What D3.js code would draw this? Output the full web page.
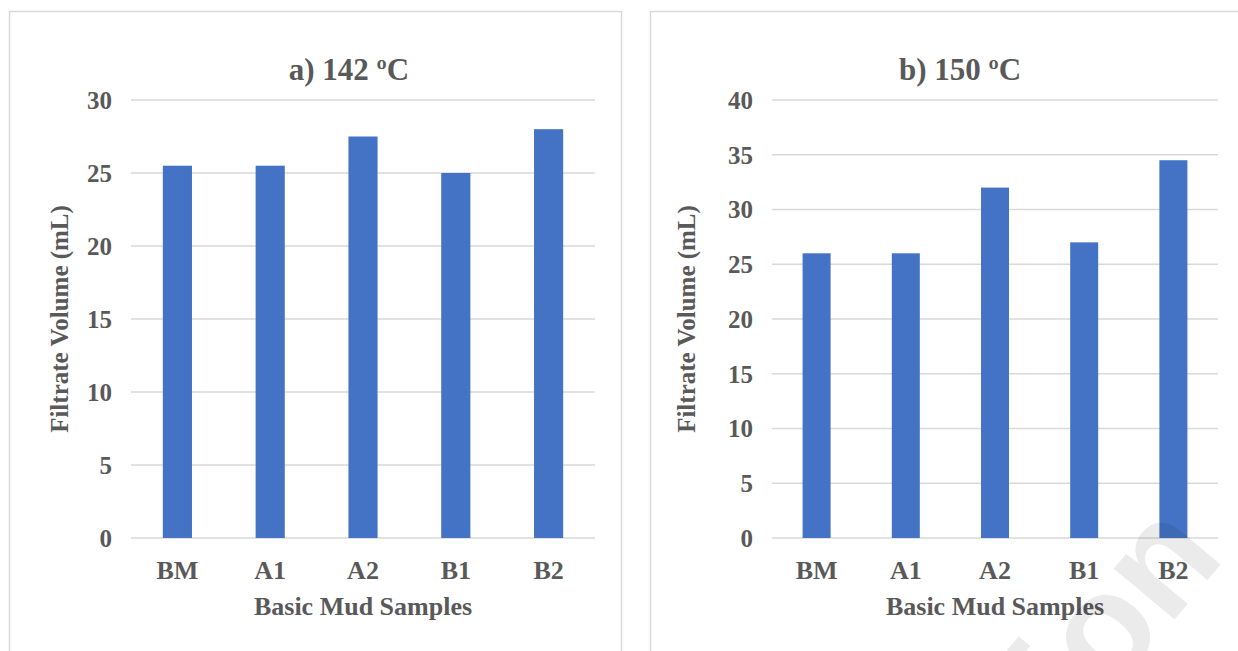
<!DOCTYPE html>
<html>
<head>
<meta charset="utf-8">
<script src="https://cdn.jsdelivr.net/npm/d3@7"></script>
<style>
  html, body { margin: 0; padding: 0; background: #fff; }
  text { font-family: "Liberation Serif", "Times New Roman", serif; font-weight: bold; fill: #595959; }
</style>
</head>
<body>
<svg id="chart" width="1238" height="651"></svg>
<script>
// data
const categories = ["BM", "A1", "A2", "B1", "B2"];
const filtrate142 = [25.5, 25.5, 27.5, 25, 28];
const filtrate150 = [26, 26, 32, 27, 34.5];
const ticks142 = [0, 5, 10, 15, 20, 25, 30];
const ticks150 = [0, 5, 10, 15, 20, 25, 30, 35, 40];

const svg = d3.select("#chart");
svg.append("rect").attr("width", 1238).attr("height", 651).attr("fill", "white");

function drawPanel(opts) {
  var g = svg.append("g");

  // panel border
  g.append("rect")
    .attr("x", opts.box[0] + 0.5)
    .attr("y", opts.box[1] + 0.5)
    .attr("width", opts.box[2])
    .attr("height", opts.box[3])
    .attr("fill", "none")
    .attr("stroke", "#d9d9d9")
    .attr("stroke-width", 1.5);

  var x = d3.scaleBand().domain(categories).range([opts.left, opts.right]).paddingInner(0.686).paddingOuter(0.343);
  var y = d3.scaleLinear().domain([0, d3.max(opts.ticks)]).range([opts.bottom, opts.top]);

  // gridlines
  g.append("g").selectAll("line").data(opts.ticks).join("line")
    .attr("x1", opts.left).attr("x2", opts.right)
    .attr("y1", d => y(d)).attr("y2", d => y(d))
    .attr("stroke", "#d9d9d9").attr("stroke-width", 1.5);

  // tick labels
  g.append("g").selectAll("text").data(opts.ticks).join("text")
    .attr("x", opts.left - 19)
    .attr("y", d => y(d))
    .attr("dy", "0.35em")
    .attr("text-anchor", "end")
    .style("font-size", "25px")
    .text(d => d);

  // bars
  g.append("g").selectAll("rect").data(opts.values).join("rect")
    .attr("x", (d, i) => x(categories[i]))
    .attr("y", d => y(d))
    .attr("width", x.bandwidth())
    .attr("height", d => y(0) - y(d))
    .attr("fill", "#4472c4");

  // category labels
  g.append("g").selectAll("text").data(categories).join("text")
    .attr("x", d => x(d) + x.bandwidth() / 2)
    .attr("y", opts.bottom + 41)
    .attr("text-anchor", "middle")
    .style("font-size", "26px")
    .text(d => d);

  // title
  g.append("text")
    .attr("x", opts.titleX)
    .attr("y", 80)
    .attr("text-anchor", "middle")
    .style("font-size", "31px")
    .text(opts.title);

  // x axis title
  g.append("text")
    .attr("x", (opts.left + opts.right) / 2)
    .attr("y", opts.bottom + 77)
    .attr("text-anchor", "middle")
    .style("font-size", "26px")
    .text("Basic Mud Samples");

  // y axis title
  g.append("text")
    .attr("transform", `translate(${opts.yTitleX}, ${(opts.top + opts.bottom) / 2}) rotate(-90)`)
    .attr("text-anchor", "middle")
    .style("font-size", "25px")
    .text("Filtrate Volume (mL)");
}

drawPanel({
  box: [9, 11, 612, 660],
  left: 131, right: 595, top: 100, bottom: 538,
  values: filtrate142, ticks: ticks142,
  title: "a) 142 ºC", titleX: 349, yTitleX: 68
});

drawPanel({
  box: [650, 11, 620, 660],
  left: 772, right: 1218, top: 100, bottom: 538,
  values: filtrate150, ticks: ticks150,
  title: "b) 150 ºC", titleX: 960, yTitleX: 695
});

// faint watermark in the corner, cut by the page edge like the original
svg.append("text")
  .attr("transform", "translate(1050, 768) rotate(-50)")
  .style("font-family", "'Liberation Sans', Arial, sans-serif")
  .style("font-weight", "bold")
  .style("font-size", "150px")
  .style("fill", "#000")
  .style("fill-opacity", 0.08)
  .text("tion");
</script>
</body>
</html>
